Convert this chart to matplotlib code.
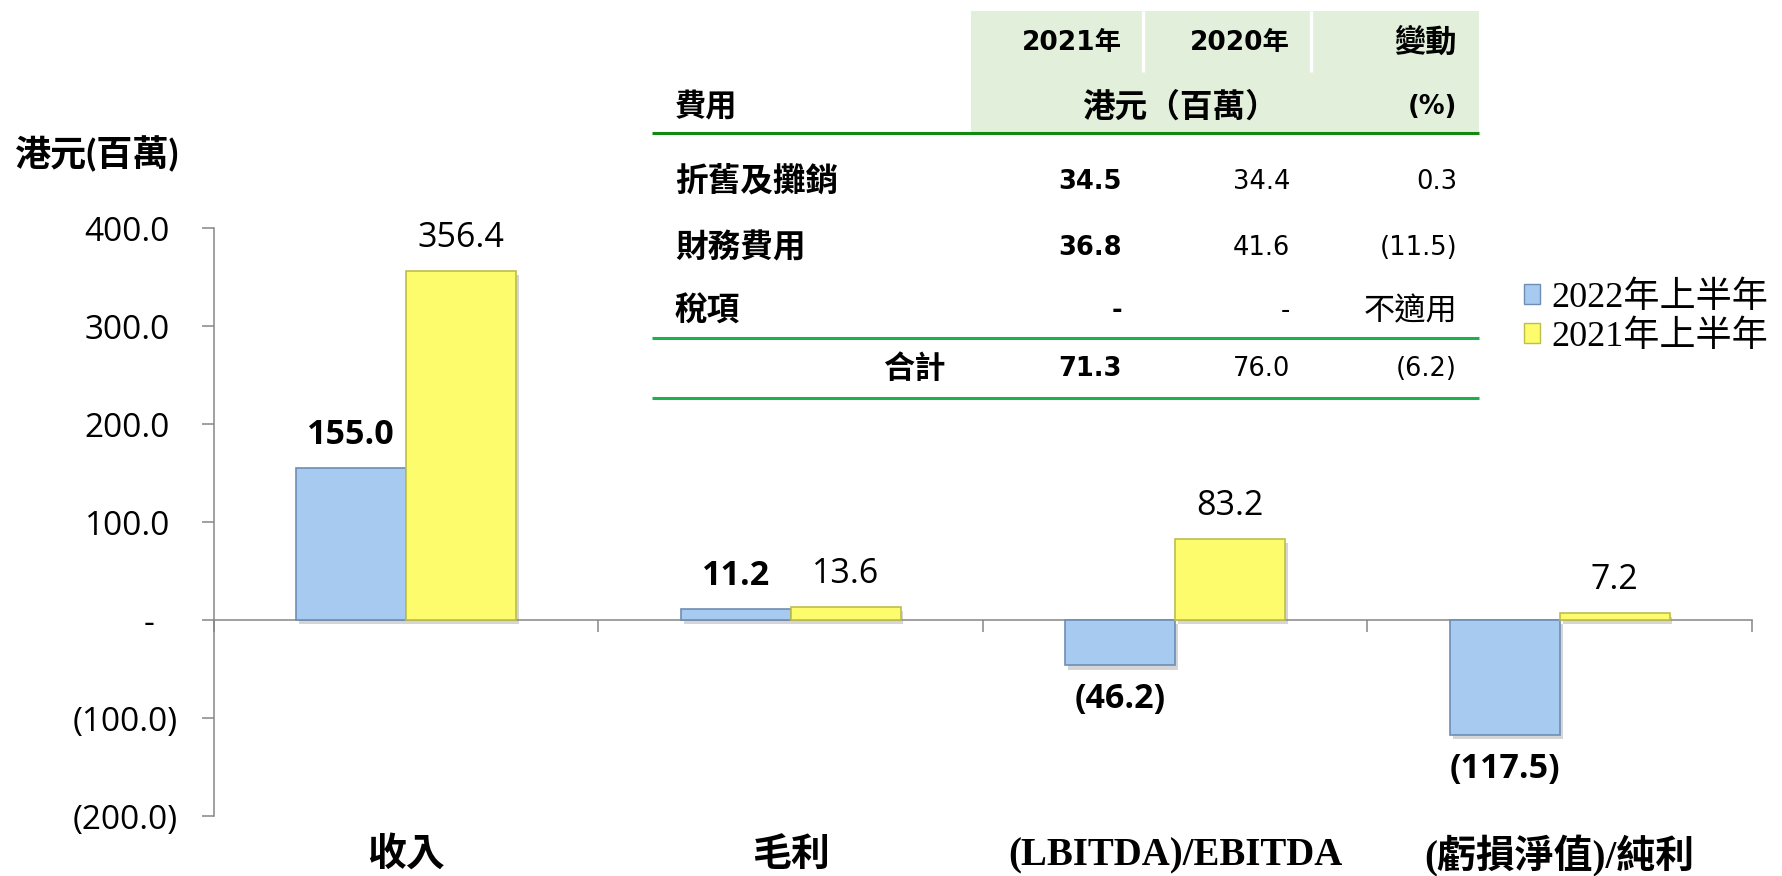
import matplotlib
matplotlib.use('Agg')
import matplotlib.pyplot as plt
import matplotlib.patheffects as pe
import matplotlib.transforms as mtransforms
from matplotlib.patches import Rectangle, Patch
from matplotlib.font_manager import FontProperties
import numpy as np

# ---------------- data ----------------
categories = ['收入', '毛利', '(LBITDA)/EBITDA', '(虧損淨值)/純利']
series_names = ['2022年上半年', '2021年上半年']
h1_2022 = [155.0, 11.2, -46.2, -117.5]
h1_2021 = [356.4, 13.6, 83.2, 7.2]
y_ticks = [-200, -100, 0, 100, 200, 300, 400]
y_title = '港元(百萬)'

table_years = ['2021年', '2020年', '變動']
table_first_col = '費用'
table_units = ['港元（百萬）', '(%)']
expense_items = ['折舊及攤銷', '財務費用', '稅項']
exp_2021 = [34.5, 36.8, None]
exp_2020 = [34.4, 41.6, None]
exp_change = [0.3, -11.5, None]
not_applicable = '不適用'
total_label = '合計'
total_2021 = 71.3
total_2020 = 76.0
total_change = -6.2

# ---------------- style ----------------
W, H = 1783, 876
AXF = ['Open Sans', 'Noto Sans CJK TC', 'DejaVu Sans']
NUM = ['DejaVu Sans', 'Noto Sans CJK TC']
CJK = ['Noto Sans CJK TC', 'DejaVu Sans']
YT = ['Lato', 'Noto Sans CJK TC', 'DejaVu Sans']
SERIF = ['Liberation Serif', 'Noto Sans CJK TC', 'DejaVu Sans']
BLUE, BLUE_E = '#A7CBF0', '#6E8DB2'
YEL, YEL_E = '#FCFC6C', '#BEBE4C'
GRAY = '#868686'


def acc(v):
    if v is None:
        return '-'
    if v < 0:
        return f'({abs(v):.1f})'
    if v == 0:
        return '-'
    return f'{v:.1f}'


fig = plt.figure(figsize=(W / 100, H / 100), dpi=100)
ax = fig.add_axes([214 / W, (H - 816) / H, (1752 - 214) / W, (816 - 228.3) / H])

x = np.arange(len(categories)) + 0.5
w = 0.286
shadow = [pe.SimplePatchShadow(offset=(2, -3), shadow_rgbFace='#888888', alpha=0.35), pe.Normal()]
b1 = ax.bar(x - w / 2, h1_2022, w, color=BLUE, edgecolor=BLUE_E, linewidth=1.2, zorder=3, label=series_names[0])
b2 = ax.bar(x + w / 2, h1_2021, w, color=YEL, edgecolor=YEL_E, linewidth=1.2, zorder=3, label=series_names[1])
for b in list(b1) + list(b2):
    b.set_path_effects(shadow)

ax.set_xlim(0, len(categories))
ax.set_ylim(-200, 400)
for s in ['top', 'right']:
    ax.spines[s].set_visible(False)
ax.spines['bottom'].set_position(('data', 0))
for s in ['left', 'bottom']:
    ax.spines[s].set_color(GRAY)
    ax.spines[s].set_linewidth(1.1)
ax.spines['bottom'].set_zorder(2)

ax.set_xticks(np.arange(len(categories) + 1))
ax.set_xticklabels([])
ax.tick_params(axis='x', direction='out', length=8.3, width=1.1, color=GRAY)

ax.set_yticks(y_ticks)
ax.set_yticklabels([acc(v) for v in y_ticks])
ax.tick_params(axis='y', direction='out', length=8.3, width=1.1, color=GRAY, pad=18, labelsize=24)
for lab, v in zip(ax.get_yticklabels(), y_ticks):
    lab.set_fontfamily(AXF)
    dx = 0
    if v > 0:
        dx = -7.5
    elif v == 0:
        dx = -23
    if dx:
        lab.set_transform(lab.get_transform() + mtransforms.ScaledTranslation(dx / 100, 0, fig.dpi_scale_trans))

# value labels
for xs, vals, wt in [(x - w / 2, h1_2022, 'bold'), (x + w / 2, h1_2021, 'normal')]:
    for xi, v in zip(xs, vals):
        off = 23.8 if v >= 0 else -24.5
        ax.annotate(acc(v), xy=(xi, v), xytext=(0, off), textcoords='offset points',
                    ha='center', va='center', fontsize=24.5, fontweight=wt, family=AXF)

# category labels
for xi, c in zip(x, categories):
    ax.text(xi, -0.068, c, transform=ax.get_xaxis_transform(), ha='center', va='center',
            fontsize=28, fontweight='bold', family=SERIF)

# y title
fig.text(15 / W, 1 - 154 / H, y_title, ha='left', va='center', fontsize=26, fontweight='bold', family=YT)

# legend
fig.legend(handles=[Patch(facecolor=BLUE, edgecolor=BLUE_E), Patch(facecolor=YEL, edgecolor=YEL_E)],
           labels=series_names, loc='center left', bbox_to_anchor=(1524 / W, 1 - 317.5 / H),
           frameon=False, prop=FontProperties(family=SERIF, size=26),
           handlelength=0.45, handleheight=0.45, handletextpad=0.3, labelspacing=0.15,
           borderpad=0, borderaxespad=0)

# ---------------- table overlay ----------------
tax = fig.add_axes([0, 0, 1, 1], zorder=5)
tax.set_xlim(0, W)
tax.set_ylim(H, 0)
tax.axis('off')
tax.patch.set_alpha(0)

tax.add_patch(Rectangle((971, 11), 1479 - 971, 121, facecolor='#E2EFDA', edgecolor='none'))
for xs in [1143, 1311]:
    tax.plot([xs, xs], [11, 72], color='white', lw=2.4, solid_capstyle='butt')
tax.plot([652, 1479], [133, 133], color='#128A12', lw=2.2, solid_capstyle='butt')
for yy in [338, 398]:
    tax.plot([652, 1479], [yy, yy], color='#1DB04C', lw=2.2, solid_capstyle='butt')

col_r = [1122, 1290, 1457]
TS = 18.5   # numbers
TC = 22.5   # CJK text
TI = 23.5   # CJK row items
for xr, t in zip(col_r[:2], table_years[:2]):
    tax.text(xr, 43, t, ha='right', va='center', fontsize=TS + 0.5, fontweight='bold', family=NUM)
tax.text(col_r[2], 43, table_years[2], ha='right', va='center', fontsize=TC, fontweight='bold', family=CJK)
tax.text(675, 107, table_first_col, ha='left', va='center', fontsize=TC, fontweight='bold', family=CJK)
tax.text(1180, 107, table_units[0], ha='center', va='center', fontsize=TI, fontweight='bold', family=CJK)
tax.text(1457, 107, table_units[1], ha='right', va='center', fontsize=TS, fontweight='bold', family=NUM)

row_y = [182, 248, 311]
for yy, item, a, b, c in zip(row_y, expense_items, exp_2021, exp_2020, exp_change):
    tax.text(675, yy, item, ha='left', va='center', fontsize=TI, fontweight='bold', family=CJK)
    tax.text(col_r[0], yy, acc(a), ha='right', va='center', fontsize=TS, fontweight='bold', family=NUM)
    tax.text(col_r[1], yy, acc(b), ha='right', va='center', fontsize=TS, family=NUM)
    if c is None:
        tax.text(col_r[2], yy, not_applicable, ha='right', va='center', fontsize=TC, family=CJK)
    else:
        tax.text(col_r[2], yy, acc(c), ha='right', va='center', fontsize=TS, family=NUM)

tax.text(946, 369, total_label, ha='right', va='center', fontsize=TC, fontweight='bold', family=CJK)
tax.text(col_r[0], 369, acc(total_2021), ha='right', va='center', fontsize=TS, fontweight='bold', family=NUM)
tax.text(col_r[1], 369, acc(total_2020), ha='right', va='center', fontsize=TS, family=NUM)
tax.text(col_r[2], 369, acc(total_change), ha='right', va='center', fontsize=TS, family=NUM)

fig.savefig('out.png', dpi=100)
